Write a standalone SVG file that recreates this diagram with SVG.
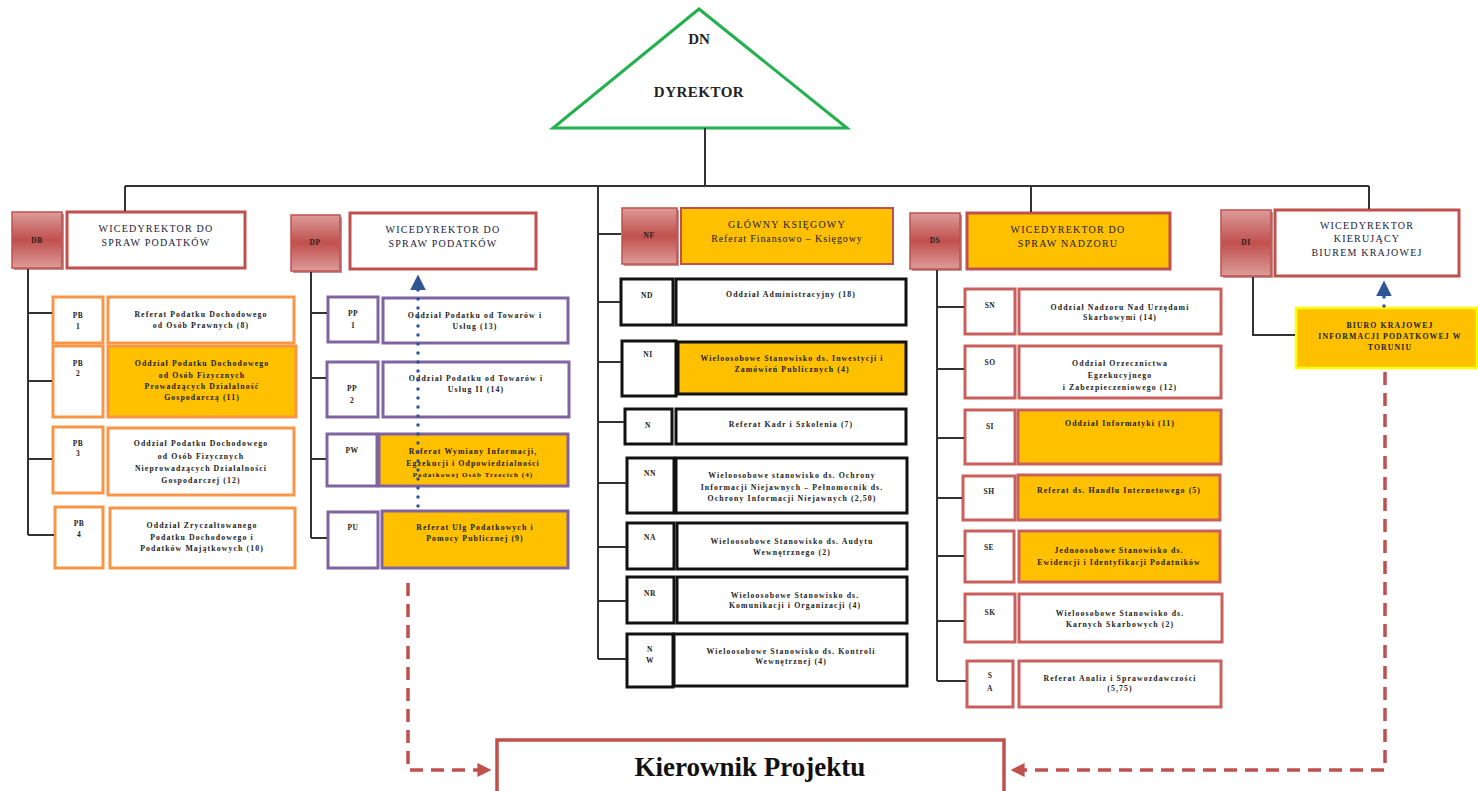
<svg xmlns="http://www.w3.org/2000/svg" width="1478" height="791" viewBox="0 0 1478 791">
  <defs>
    <linearGradient id="redGrad" x1="0" y1="0" x2="0" y2="1">
      <stop offset="0" stop-color="#dc9c9a"/>
      <stop offset="0.5" stop-color="#c0504d"/>
      <stop offset="1" stop-color="#dc9c9a"/>
    </linearGradient>
    <marker id="arrRed" viewBox="0 0 10 10" refX="9" refY="5" markerWidth="4" markerHeight="4" orient="auto" markerUnits="strokeWidth">
      <path d="M0,0 L10,5 L0,10 z" fill="#c0504d"/>
    </marker>
    <marker id="arrBlue" viewBox="0 0 10 10" refX="9" refY="5" markerWidth="4.5" markerHeight="4.5" orient="auto" markerUnits="strokeWidth">
      <path d="M0,0 L10,5 L0,10 z" fill="#2f5597"/>
    </marker>
  </defs>
  <style>
    .code { fill: url(#redGrad); stroke: #c0504d; stroke-width: 1.5; }
    .sh { fill: #8c3836; opacity: 0.55; }
    .ttl { fill: #ffffff; stroke: #c0504d; stroke-width: 3; }
    .ttlO { fill: #ffc000; stroke: #c0504d; stroke-width: 3; }
    .ob { fill: #ffffff; stroke: #f79646; stroke-width: 3; }
    .obf { fill: #ffc000; stroke: #f79646; stroke-width: 3; }
    .pb { fill: #ffffff; stroke: #8064a2; stroke-width: 3; }
    .pbf { fill: #ffc000; stroke: #8064a2; stroke-width: 3; }
    .kb { fill: #ffffff; stroke: #111111; stroke-width: 3; }
    .kbf { fill: #ffc000; stroke: #111111; stroke-width: 3; }
    .rb { fill: #ffffff; stroke: #c9605d; stroke-width: 3; }
    .rbf { fill: #ffc000; stroke: #c9605d; stroke-width: 3; }
    .yb { fill: #ffc000; stroke: #ffff00; stroke-width: 2.5; }
    text { font-family: "Liberation Serif", "Times New Roman", serif; text-anchor: middle; fill: #222222; }
    .t { font-size: 7.8px; font-weight: bold; letter-spacing: 1.1px; }
    .c { font-size: 7.5px; font-weight: bold; letter-spacing: 0.5px; }
    .h { font-size: 10px; letter-spacing: 1.2px; fill: #1a1a3a; }
    .ln { fill: none; stroke: #333333; stroke-width: 2; }
    .dashR { fill: none; stroke: #c0504d; stroke-width: 3.5; stroke-dasharray: 13 8; }
    .dotB { fill: none; stroke: #2f5597; stroke-width: 3.5; stroke-dasharray: 0 9; stroke-linecap: round; }
  </style>

  <!-- director -->
  <g id="dn">
    <polygon points="699,9 553,128 847,128" fill="#ffffff" stroke="#22b14c" stroke-width="3"/>
    <text x="699" y="44" style="font-size:15px;font-weight:bold;">DN</text>
    <text x="699" y="97" style="font-size:15px;font-weight:bold;letter-spacing:0.5px;">DYREKTOR</text>
  </g>

  <!-- DB -->
  <g id="db">
    <rect class="sh" x="14" y="214" width="50" height="56"/>
    <rect class="code" x="12" y="212" width="50" height="56"/>
    <text class="c" x="37" y="243">DB</text>
    <rect class="ttl" x="67" y="212" width="178" height="56"/>
    <text class="h" x="156" y="232">WICEDYREKTOR  DO</text>
    <text class="h" x="156" y="246">SPRAW PODATKÓW</text>
  </g>
  <g id="pb1">
    <rect class="ob" x="53" y="297" width="50" height="46"/>
    <text class="c" x="78" y="318">PB</text><text class="c" x="78" y="329">1</text>
    <rect class="ob" x="108" y="297" width="186" height="46"/>
    <text class="t" x="201" y="317">Referat Podatku Dochodowego</text>
    <text class="t" x="201" y="328">od Osób Prawnych  (8)</text>
  </g>
  <g id="pb2">
    <rect class="ob" x="53" y="346" width="50" height="71"/>
    <text class="c" x="78" y="366">PB</text><text class="c" x="78" y="376">2</text>
    <rect class="obf" x="108" y="346" width="188" height="71"/>
    <text class="t" x="202" y="366">Oddział Podatku Dochodowego</text>
    <text class="t" x="202" y="378">od Osób Fizycznych</text>
    <text class="t" x="202" y="389">Prowadzących Działalność</text>
    <text class="t" x="202" y="400">Gospodarczą (11)</text>
  </g>
  <g id="pb3">
    <rect class="ob" x="53" y="427" width="50" height="66"/>
    <text class="c" x="78" y="446">PB</text><text class="c" x="78" y="456">3</text>
    <rect class="ob" x="108" y="428" width="186" height="67"/>
    <text class="t" x="201" y="446">Oddział Podatku Dochodowego</text>
    <text class="t" x="201" y="459">od Osób Fizycznych</text>
    <text class="t" x="201" y="471">Nieprowadzących Działalności</text>
    <text class="t" x="201" y="483">Gospodarczej (12)</text>
  </g>
  <g id="pb4">
    <rect class="ob" x="55" y="507" width="48" height="61"/>
    <text class="c" x="79" y="526">PB</text><text class="c" x="79" y="537">4</text>
    <rect class="ob" x="110" y="508" width="185" height="60"/>
    <text class="t" x="202" y="528">Oddział Zryczałtowanego</text>
    <text class="t" x="202" y="540">Podatku Dochodowego  i</text>
    <text class="t" x="202" y="551">Podatków Majątkowych  (10)</text>
  </g>

  <!-- DP -->
  <g id="dp">
    <rect class="sh" x="293" y="217" width="49" height="56"/>
    <rect class="code" x="291" y="215" width="49" height="56"/>
    <text class="c" x="315" y="245">DP</text>
    <rect class="ttl" x="350" y="213" width="186" height="56"/>
    <text class="h" x="443" y="233">WICEDYREKTOR  DO</text>
    <text class="h" x="443" y="247">SPRAW PODATKÓW</text>
  </g>
  <g id="pp1">
    <rect class="pb" x="328" y="297" width="50" height="45"/>
    <text class="c" x="353" y="316">PP</text><text class="c" x="353" y="328">1</text>
    <rect class="pb" x="383" y="298" width="185" height="45"/>
    <text class="t" x="475" y="318">Oddział Podatku od Towarów i</text>
    <text class="t" x="475" y="329">Usług (13)</text>
  </g>
  <g id="pp2">
    <rect class="pb" x="327" y="362" width="51" height="55"/>
    <text class="c" x="352" y="391">PP</text><text class="c" x="352" y="403">2</text>
    <rect class="pb" x="383" y="362" width="186" height="55"/>
    <text class="t" x="476" y="381">Oddział Podatku od Towarów i</text>
    <text class="t" x="476" y="392">Usług II (14)</text>
  </g>
  <g id="pw">
    <rect class="pb" x="327" y="434" width="50" height="52"/>
    <text class="c" x="352" y="453">PW</text>
    <rect class="pbf" x="379" y="434" width="189" height="52"/>
    <text class="t" x="473" y="454">Referat Wymiany Informacji,</text>
    <text class="t" x="473" y="466">Egzekucji i Odpowiedzialności</text>
    <text class="t" x="473" y="477" style="font-size:7px;">Podatkowej Osób Trzecich (4)</text>
  </g>
  <g id="pu">
    <rect class="pb" x="328" y="512" width="50" height="56"/>
    <text class="c" x="353" y="530">PU</text>
    <rect class="pbf" x="382" y="511" width="186" height="57"/>
    <text class="t" x="475" y="530">Referat Ulg Podatkowych i</text>
    <text class="t" x="475" y="541">Pomocy Publicznej (9)</text>
  </g>

  <!-- NF -->
  <g id="nf">
    <rect class="sh" x="624" y="210" width="55" height="56"/>
    <rect class="code" x="622" y="208" width="55" height="56"/>
    <text class="c" x="649" y="238">NF</text>
    <rect class="ttlO" x="681" y="208" width="212" height="56" style="stroke-width:2"/>
    <text class="h" x="787" y="228">GŁÓWNY  KSIĘGOWY</text>
    <text class="h" x="787" y="242" style="letter-spacing:0.9px;">Referat Finansowo – Księgowy</text>
  </g>
  <g id="nd">
    <rect class="kb" x="621" y="279" width="52" height="46"/>
    <text class="c" x="647" y="298">ND</text>
    <rect class="kb" x="676" y="279" width="230" height="46"/>
    <text class="t" x="791" y="297">Oddział Administracyjny (18)</text>
  </g>
  <g id="ni">
    <rect class="kb" x="622" y="341" width="54" height="55"/>
    <text class="c" x="648" y="357">NI</text>
    <rect class="kbf" x="678" y="342" width="228" height="52"/>
    <text class="t" x="792" y="361">Wieloosobowe Stanowisko  ds. Inwestycji i</text>
    <text class="t" x="792" y="372">Zamówień  Publicznych (4)</text>
  </g>
  <g id="nk">
    <rect class="kb" x="625" y="409" width="47" height="35"/>
    <text class="c" x="648" y="428">N</text>
    <rect class="kb" x="676" y="409" width="230" height="35"/>
    <text class="t" x="791" y="427">Referat Kadr i Szkolenia (7)</text>
  </g>
  <g id="nn">
    <rect class="kb" x="627" y="458" width="47" height="55"/>
    <text class="c" x="650" y="476">NN</text>
    <rect class="kb" x="676" y="458" width="231" height="55"/>
    <text class="t" x="792" y="478">Wieloosobowe stanowisko  ds. Ochrony</text>
    <text class="t" x="792" y="490">Informacji Niejawnych – Pełnomocnik ds.</text>
    <text class="t" x="792" y="501">Ochrony Informacji Niejawnych (2,50)</text>
  </g>
  <g id="na">
    <rect class="kb" x="627" y="523" width="47" height="46"/>
    <text class="c" x="650" y="540">NA</text>
    <rect class="kb" x="677" y="523" width="230" height="46"/>
    <text class="t" x="792" y="544">Wieloosobowe Stanowisko  ds. Audytu</text>
    <text class="t" x="792" y="555">Wewnętrznego (2)</text>
  </g>
  <g id="nr">
    <rect class="kb" x="627" y="577" width="47" height="46"/>
    <text class="c" x="650" y="596">NR</text>
    <rect class="kb" x="677" y="577" width="230" height="46"/>
    <text class="t" x="795" y="598">Wieloosobowe Stanowisko  ds.</text>
    <text class="t" x="795" y="608">Komunikacji i Organizacji (4)</text>
  </g>
  <g id="nw">
    <rect class="kb" x="627" y="634" width="46" height="53"/>
    <text class="c" x="650" y="652">N</text><text class="c" x="650" y="663">W</text>
    <rect class="kb" x="674" y="634" width="233" height="52"/>
    <text class="t" x="791" y="654">Wieloosobowe Stanowisko  ds. Kontroli</text>
    <text class="t" x="791" y="664">Wewnętrznej (4)</text>
  </g>

  <!-- DS -->
  <g id="ds">
    <rect class="sh" x="912" y="215" width="50" height="56"/>
    <rect class="code" x="910" y="213" width="50" height="56"/>
    <text class="c" x="935" y="243">DS</text>
    <rect class="ttlO" x="967" y="213" width="203" height="56"/>
    <text class="h" x="1068" y="233">WICEDYREKTOR   DO</text>
    <text class="h" x="1068" y="247">SPRAW NADZORU</text>
  </g>
  <g id="sn">
    <rect class="rb" x="965" y="289" width="50" height="45"/>
    <text class="c" x="990" y="308">SN</text>
    <rect class="rb" x="1019" y="289" width="202" height="45"/>
    <text class="t" x="1120" y="310">Oddział Nadzoru Nad Urzędami</text>
    <text class="t" x="1120" y="320">Skarbowymi (14)</text>
  </g>
  <g id="so">
    <rect class="rb" x="965" y="346" width="50" height="52"/>
    <text class="c" x="990" y="365">SO</text>
    <rect class="rb" x="1019" y="346" width="202" height="52"/>
    <text class="t" x="1120" y="366">Oddział Orzecznictwa</text>
    <text class="t" x="1120" y="378">Egzekucyjnego</text>
    <text class="t" x="1120" y="390">i Zabezpieczeniowego (12)</text>
  </g>
  <g id="si">
    <rect class="rb" x="965" y="410" width="50" height="54"/>
    <text class="c" x="990" y="429">SI</text>
    <rect class="rbf" x="1018" y="410" width="203" height="54"/>
    <text class="t" x="1120" y="426">Oddział Informatyki (11)</text>
  </g>
  <g id="sh">
    <rect class="rb" x="963" y="476" width="52" height="44"/>
    <text class="c" x="989" y="494">SH</text>
    <rect class="rbf" x="1018" y="475" width="202" height="45"/>
    <text class="t" x="1119" y="493">Referat ds. Handlu Internetowego (5)</text>
  </g>
  <g id="se">
    <rect class="rb" x="965" y="531" width="49" height="51"/>
    <text class="c" x="989" y="550">SE</text>
    <rect class="rbf" x="1019" y="531" width="201" height="51"/>
    <text class="t" x="1119" y="553">Jednoosobowe  Stanowisko  ds.</text>
    <text class="t" x="1119" y="565">Ewidencji i Identyfikacji Podatników</text>
  </g>
  <g id="sk">
    <rect class="rb" x="965" y="594" width="50" height="48"/>
    <text class="c" x="990" y="615">SK</text>
    <rect class="rb" x="1019" y="594" width="203" height="48"/>
    <text class="t" x="1120" y="616">Wieloosobowe Stanowisko  ds.</text>
    <text class="t" x="1120" y="627">Karnych Skarbowych  (2)</text>
  </g>
  <g id="sa">
    <rect class="rb" x="967" y="661" width="46" height="46"/>
    <text class="c" x="990" y="678">S</text><text class="c" x="990" y="691">A</text>
    <rect class="rb" x="1019" y="661" width="202" height="46"/>
    <text class="t" x="1120" y="681">Referat Analiz i Sprawozdawczości</text>
    <text class="t" x="1120" y="691">(5,75)</text>
  </g>

  <!-- DI -->
  <g id="di">
    <rect class="sh" x="1223" y="212" width="50" height="66"/>
    <rect class="code" x="1221" y="210" width="50" height="66"/>
    <text class="c" x="1246" y="245">DI</text>
    <rect class="ttl" x="1275" y="210" width="184" height="66"/>
    <text class="h" x="1367" y="229">WICEDYREKTOR</text>
    <text class="h" x="1367" y="242">KIERUJĄCY</text>
    <text class="h" x="1367" y="256">BIUREM KRAJOWEJ</text>
  </g>
  <g id="bkip">
    <rect class="yb" x="1296" y="308" width="181" height="60"/>
    <text class="t" x="1390" y="328">BIURO  KRAJOWEJ</text>
    <text class="t" x="1390" y="339">INFORMACJI  PODATKOWEJ  W</text>
    <text class="t" x="1390" y="350">TORUNIU</text>
  </g>

  <!-- project manager -->
  <g id="kp">
    <rect x="497" y="740" width="507" height="60" fill="#ffffff" stroke="#c0504d" stroke-width="3.5"/>
    <text x="750" y="776" style="font-size:27px;font-weight:bold;fill:#111111;">Kierownik Projektu</text>
  </g>

  <!-- connectors, drawn over the boxes -->
  <g id="connectors">
    <path class="ln" d="M705,128 V186 M125,186 H1369 M125,186 V211 M598,186 V659 M1031,186 V212 M1369,186 V209"/>
    <!-- DB branch -->
    <path class="ln" d="M28,269 V535 M28,313 H52 M28,381 H52 M28,459 H52 M28,535 H54"/>
    <!-- DP branch -->
    <path class="ln" d="M311,272 V538 M311,313 H327 M311,378 H326 M311,459 H326 M311,538 H327"/>
    <!-- NF branch -->
    <path class="ln" d="M598,234 H621 M598,302 H620 M598,362 H621 M598,422 H624 M598,483 H626 M598,547 H626 M598,601 H626 M598,659 H626"/>
    <!-- DS branch -->
    <path class="ln" d="M937,270 V681 M937,307 H964 M937,369 H964 M937,438 H964 M937,498 H962 M937,556 H964 M937,621 H964 M937,681 H966"/>
    <!-- DI branch -->
    <path class="ln" d="M1253,277 V335 H1295"/>
    <!-- dotted reporting lines -->
    <path class="dotB" d="M418,506 V276" marker-end="url(#arrBlue)"/>
    <path class="dotB" d="M1384,306 V282" marker-end="url(#arrBlue)"/>
    <!-- dashed lines to project manager -->
    <path class="dashR" d="M408,583 V770 H490" marker-end="url(#arrRed)"/>
    <path class="dashR" d="M1385,372 V770 H1012" marker-end="url(#arrRed)"/>
  </g>
</svg>
